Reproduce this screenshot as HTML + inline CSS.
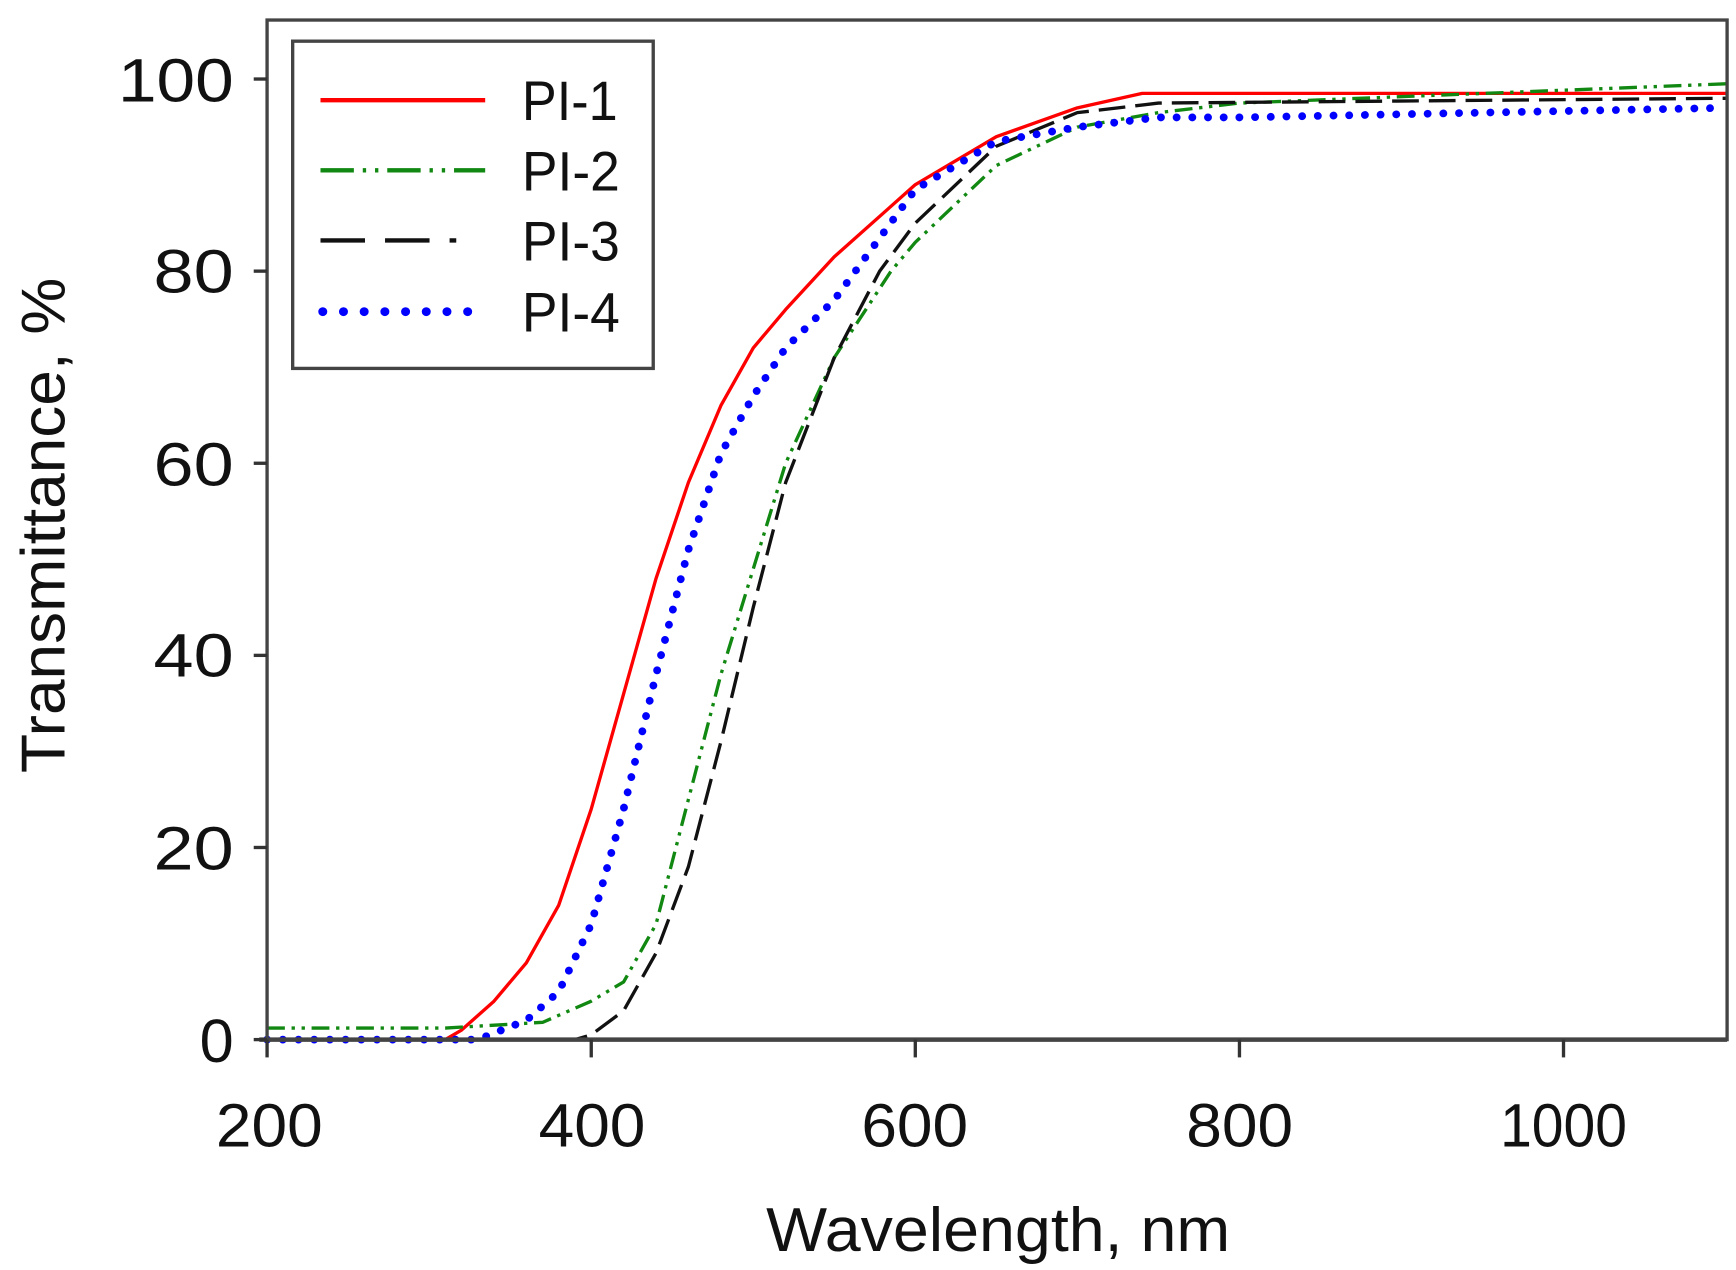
<!DOCTYPE html>
<html><head><meta charset="utf-8"><style>
html,body{margin:0;padding:0;background:#fff;}
svg{display:block;}
text{font-family:"Liberation Sans",sans-serif;fill:#111;}
</style></head><body>
<svg width="1736" height="1270" viewBox="0 0 1560 1141" preserveAspectRatio="none" xmlns="http://www.w3.org/2000/svg">
<rect x="0" y="0" width="1560" height="1141" fill="#fff"/>
<g fill="none" stroke-linejoin="round">
<polyline stroke="#ff0000" stroke-width="3" points="240,934 400.2,934 414.8,925.4 443.9,899.5 473,865 502.1,813.2 531.3,726.9 560.4,623.3 589.5,519.8 618.6,433.5 647.8,364.4 676.9,312.6 706,278.1 749.7,230.7 822.5,165.9 895.3,122.8 968.1,96.9 1026.4,83.9 1550.6,83.9"/>
<polyline stroke="#118811" stroke-width="3" stroke-dasharray="16,6,3,6,3,6" points="240,923.6 400.2,923.6 487.6,918.5 531.3,899.5 560.4,882.2 589.5,830.4 618.6,718.3 647.8,606.1 676.9,511.1 706,416.2 749.7,321.3 800.7,243.6 822.5,217.7 895.3,148.7 968.1,114.2 1041,101.2 1113.8,92.6 1550.6,75.3"/>
<polyline stroke="#111" stroke-width="3" stroke-dasharray="24,9" points="240,934 516.7,934 531.3,929.7 560.4,908.1 589.5,856.3 618.6,778.7 647.8,666.5 676.9,545.7 706,433.5 749.7,321.3 790.5,243.6 822.5,200.5 895.3,131.4 968.1,101.2 1041,92.6 1550.6,88.3"/>
<polyline stroke="#0000ff" stroke-width="7" stroke-linecap="round" stroke-dasharray="0.1,14" points="240,934 429.3,934 473,916.7 502.1,890.9 531.3,830.4 560.4,726.9 589.5,606.1 618.6,493.9 647.8,407.6 676.9,355.8 706,312.6 749.7,269.5 822.5,170.2 895.3,127.1 968.1,114.2 1041,105.5 1113.8,105.5 1550.6,96.9"/>
</g>
<rect x="240" y="18" width="1312" height="916" fill="none" stroke="#444" stroke-width="3"/>
<line x1="233" y1="934" x2="1552" y2="934" stroke="#444" stroke-width="4"/>
<g stroke="#333" stroke-width="3">
<line x1="228" y1="934" x2="240" y2="934"/><line x1="228" y1="761.4" x2="240" y2="761.4"/>
<line x1="228" y1="588.8" x2="240" y2="588.8"/><line x1="228" y1="416.2" x2="240" y2="416.2"/>
<line x1="228" y1="243.6" x2="240" y2="243.6"/><line x1="228" y1="71" x2="240" y2="71"/>
<line x1="240" y1="934" x2="240" y2="950"/><line x1="531.3" y1="934" x2="531.3" y2="950"/>
<line x1="822.5" y1="934" x2="822.5" y2="950"/><line x1="1113.8" y1="934" x2="1113.8" y2="950"/>
<line x1="1405" y1="934" x2="1405" y2="950"/>
</g>
<g font-size="55" text-anchor="end">
<text x="210" y="954">0</text>
<text x="210" y="781" textLength="72" lengthAdjust="spacingAndGlyphs">20</text>
<text x="210" y="608" textLength="72" lengthAdjust="spacingAndGlyphs">40</text>
<text x="210" y="436" textLength="72" lengthAdjust="spacingAndGlyphs">60</text>
<text x="210" y="263" textLength="72" lengthAdjust="spacingAndGlyphs">80</text>
<text x="210" y="91" textLength="104" lengthAdjust="spacingAndGlyphs">100</text>
</g>
<g font-size="55" text-anchor="middle">
<text x="242" y="1030" textLength="96" lengthAdjust="spacingAndGlyphs">200</text>
<text x="532" y="1030" textLength="96" lengthAdjust="spacingAndGlyphs">400</text>
<text x="822" y="1030" textLength="96" lengthAdjust="spacingAndGlyphs">600</text>
<text x="1114" y="1030" textLength="96" lengthAdjust="spacingAndGlyphs">800</text>
<text x="1405" y="1030" textLength="114" lengthAdjust="spacingAndGlyphs">1000</text>
</g>
<text x="897" y="1124" font-size="56" text-anchor="middle" textLength="417" lengthAdjust="spacingAndGlyphs">Wavelength, nm</text>
<text transform="translate(58,472) rotate(-90)" font-size="56" text-anchor="middle" textLength="445" lengthAdjust="spacingAndGlyphs">Transmittance, %</text>
<rect x="263" y="37" width="324" height="294" fill="#fff" stroke="#444" stroke-width="3"/>
<line x1="288" y1="90" x2="436" y2="90" stroke="#ff0000" stroke-width="4"/>
<line x1="288" y1="153" x2="436" y2="153" stroke="#118811" stroke-width="4" stroke-dasharray="30,8,3,8,3,8"/>
<line x1="288" y1="216" x2="440" y2="216" stroke="#111" stroke-width="4" stroke-dasharray="40,18,40,18,6"/>
<line x1="290" y1="280" x2="436" y2="280" stroke="#0000ff" stroke-width="8" stroke-linecap="round" stroke-dasharray="0.1,18.5"/>
<g font-size="50">
<text x="469" y="108" textLength="86" lengthAdjust="spacingAndGlyphs">PI-1</text>
<text x="469" y="171" textLength="88" lengthAdjust="spacingAndGlyphs">PI-2</text>
<text x="469" y="234" textLength="88" lengthAdjust="spacingAndGlyphs">PI-3</text>
<text x="469" y="298" textLength="88" lengthAdjust="spacingAndGlyphs">PI-4</text>
</g>
</svg>
</body></html>
